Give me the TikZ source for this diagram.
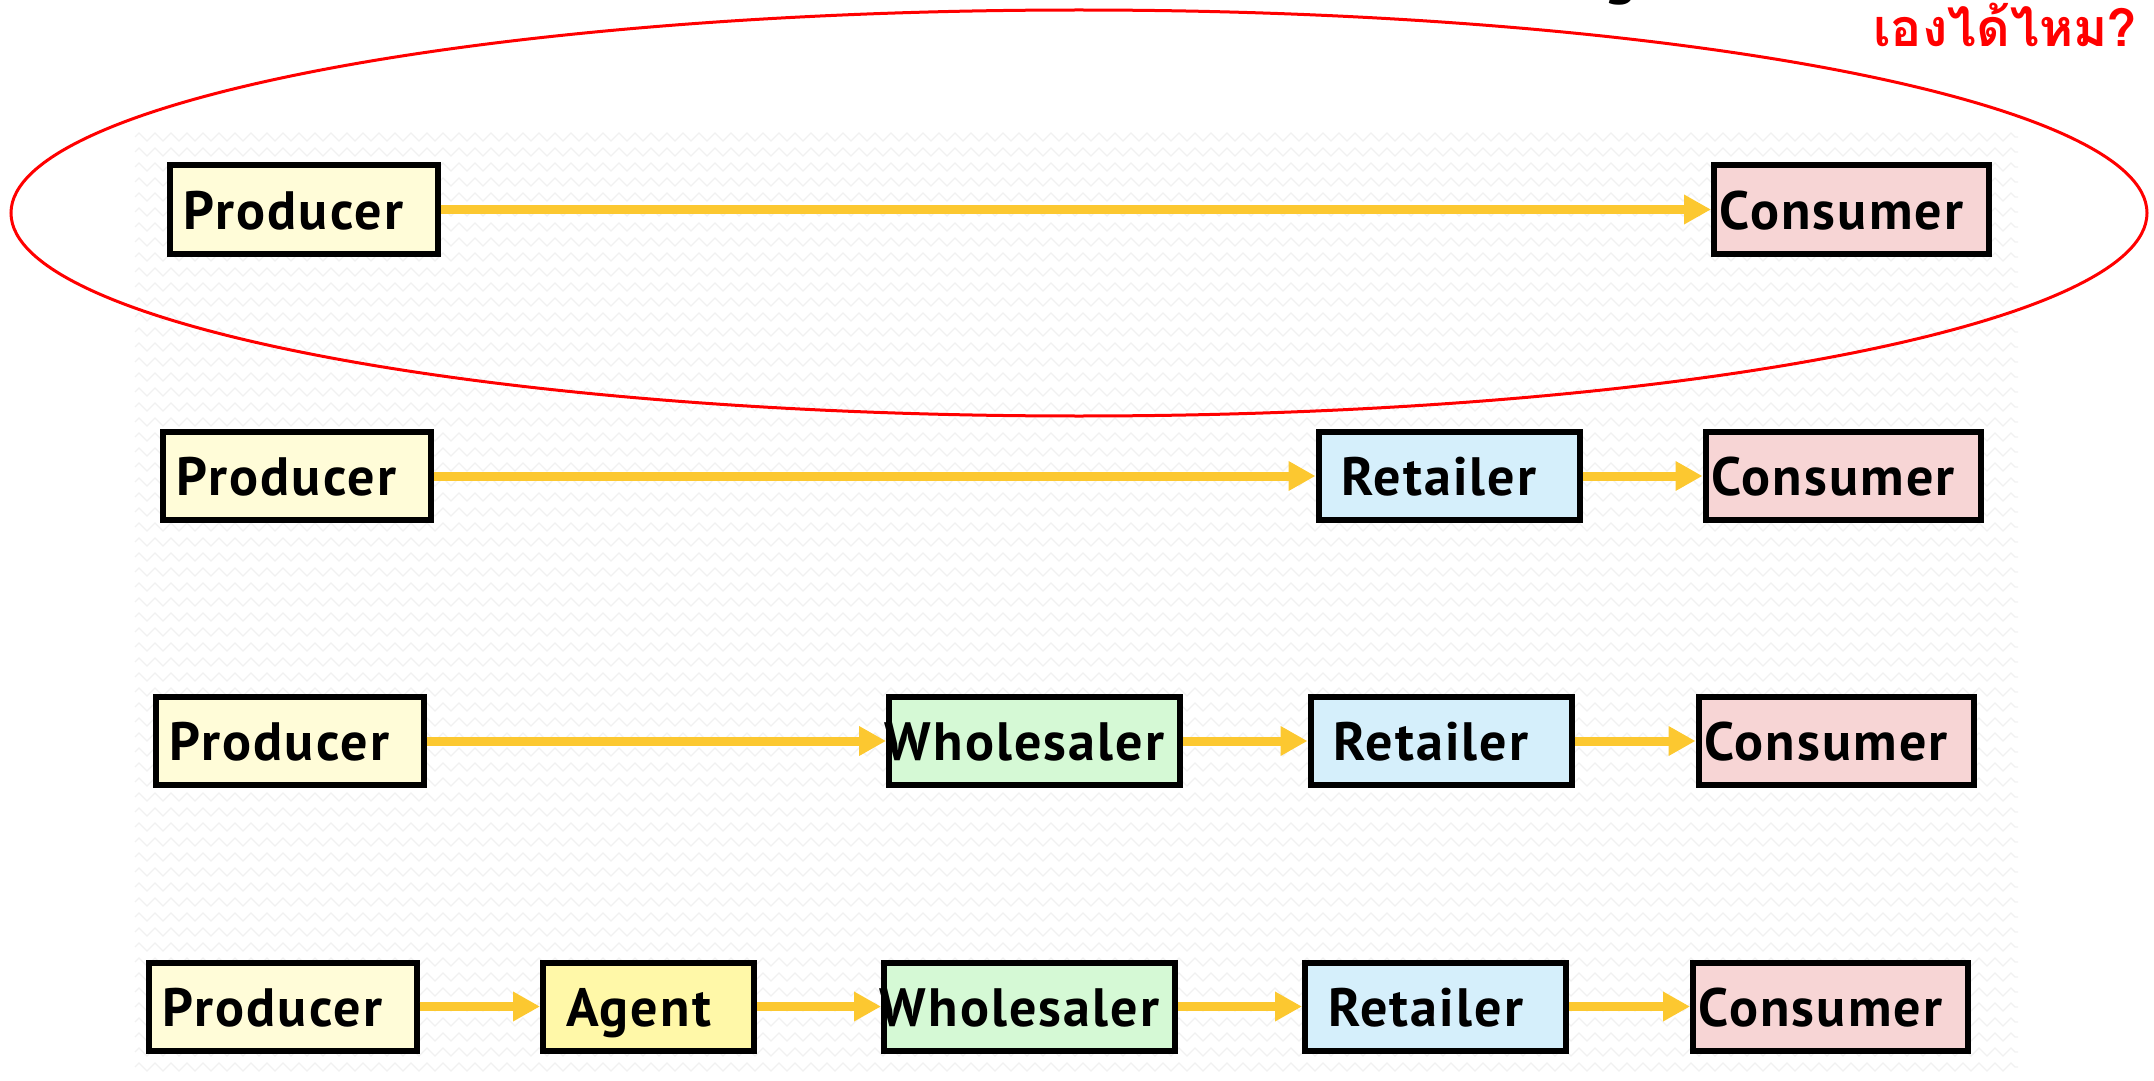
\documentclass[tikz,border=0pt]{standalone}
\usepackage{fontspec}
\setmainfont{PT Sans}[LetterSpace=4]
\newfontfamily\thaifont[Script=Thai]{Loma}
\usetikzlibrary{arrows.meta,decorations.pathmorphing}
\definecolor{prodfill}{HTML}{FFFCD8}
\definecolor{agentfill}{HTML}{FFF8A8}
\definecolor{wholefill}{HTML}{D5F9D5}
\definecolor{retfill}{HTML}{D5EFFB}
\definecolor{consfill}{HTML}{F7D5D5}
\definecolor{flowcol}{HTML}{FCC830}
\definecolor{bgzig}{HTML}{F1F1F1}
\begin{document}
\begin{tikzpicture}[x=0.5pt,y=-0.5pt,
  chainbox/.style={draw=black, line width=3pt, inner sep=0pt,
    minimum height=44pt, text height=19.5pt, text depth=0pt,
    font=\bfseries\fontsize{27}{30}\selectfont,
    execute at begin node={\hspace*{-10pt}}},
  producer/.style={chainbox, fill=prodfill, minimum width=134pt},
  agent/.style={chainbox, fill=agentfill, minimum width=105.5pt},
  wholesaler/.style={chainbox, fill=wholefill, minimum width=145.5pt},
  retailer/.style={chainbox, fill=retfill, minimum width=130.5pt},
  consumer/.style={chainbox, fill=consfill, minimum width=137.5pt},
  flow/.style={draw=flowcol, line width=4.5pt,
    -{Triangle[length=13.5pt,width=14pt]}},
  bgline/.style={draw=bgzig, line width=0.6pt, decorate,
    decoration={zigzag, segment length=8pt, amplitude=2pt}}
]
\useasboundingbox (0,0) rectangle (2154,1081);

% faint zigzag backdrop
\foreach \yy in {137,152,...,1077}
  \draw[bgline] (135,\yy) -- (2018,\yy);

% highlight around the direct channel
\draw[red, line width=1.5pt] (1079,213) ellipse [x radius=534pt, y radius=101.5pt];

% heading lines (partly above the page)
\node[anchor=base, font=\bfseries\fontsize{30}{34}\selectfont] (headg) at (1621,-7) {g};
\node[anchor=base east, text=red, font=\thaifont\bfseries\fontsize{26}{30}\selectfont, inner sep=0pt] (question) at (2137,47) {เองได้ไหม?};

% channel 1: direct
\node[producer] (p1) at (303.5,209.5) {Producer};
\node[consumer] (c1) at (1851.5,209.5) {Consumer};
\draw[flow] (p1) -- (c1);

% channel 2: one level
\node[producer] (p2) at (296.5,476) {Producer};
\node[retailer] (r2) at (1449,476) {Retailer};
\node[consumer] (c2) at (1843,476) {Consumer};
\draw[flow] (p2) -- (r2);
\draw[flow] (r2) -- (c2);

% channel 3: two levels
\node[producer] (p3) at (289.5,741) {Producer};
\node[wholesaler] (w3) at (1034.5,741) {Wholesaler};
\node[retailer] (r3) at (1441,741) {Retailer};
\node[consumer] (c3) at (1836,741) {Consumer};
\draw[flow] (p3) -- (w3);
\draw[flow] (w3) -- (r3);
\draw[flow] (r3) -- (c3);

% channel 4: three levels
\node[producer] (p4) at (282.5,1006.5) {Producer};
\node[agent] (a4) at (648.5,1006.5) {Agent};
\node[wholesaler] (w4) at (1029.5,1006.5) {Wholesaler};
\node[retailer] (r4) at (1435.5,1006.5) {Retailer};
\node[consumer] (c4) at (1830.5,1006.5) {Consumer};
\draw[flow] (p4) -- (a4);
\draw[flow] (a4) -- (w4);
\draw[flow] (w4) -- (r4);
\draw[flow] (r4) -- (c4);
\end{tikzpicture}
\end{document}
